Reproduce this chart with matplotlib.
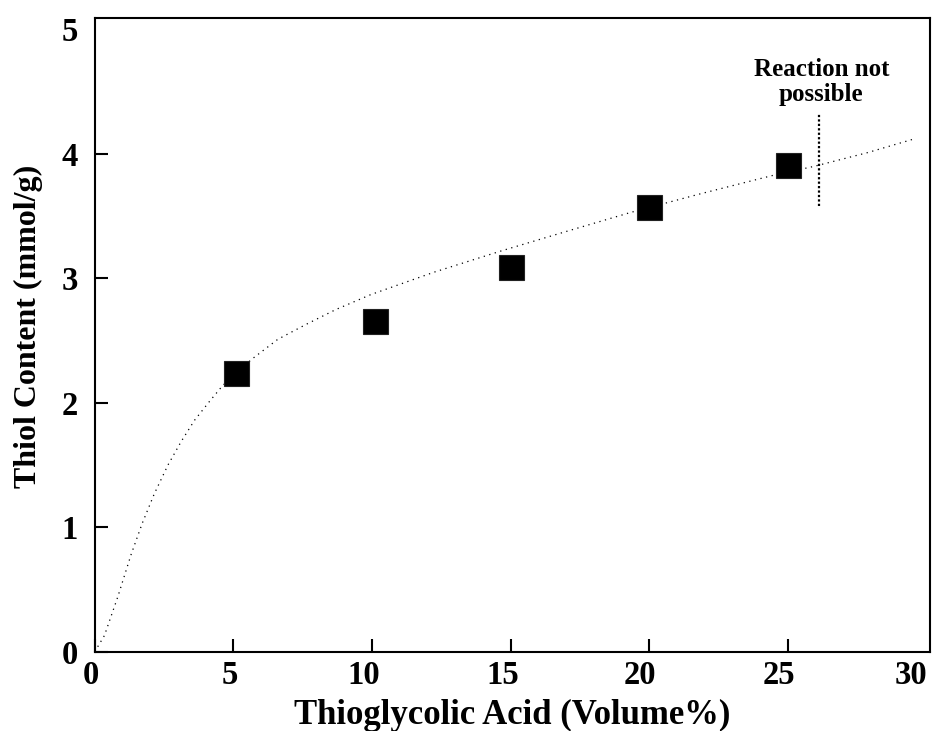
import numpy as np
import matplotlib.pyplot as plt
import matplotlib.transforms as mtransforms

# measured thiol content vs. thioglycolic acid volume fraction
tga_vol = [5.1, 10.1, 15.0, 20.0, 25.0]
thiol = [2.24, 2.66, 3.09, 3.57, 3.91]

# trend curve
fit_x = [0.0, 0.35, 0.83, 1.31, 1.71, 2.15, 2.64, 3.12, 3.6, 4.17, 4.62,
         5.66, 6.6, 7.62, 8.7, 9.96, 12.24, 14.65, 17.05, 19.33, 21.85,
         24.5, 25.94, 27.86, 29.54]
fit_y = [0.0, 0.13, 0.44, 0.78, 1.03, 1.27, 1.50, 1.69, 1.86, 2.02, 2.14,
         2.35, 2.51, 2.63, 2.75, 2.87, 3.05, 3.22, 3.38, 3.53, 3.68,
         3.83, 3.90, 4.01, 4.12]

# limit marker
limit_x = 26.1
limit_y = [3.58, 4.32]

x_ticks = [0, 5, 10, 15, 20, 25, 30]
y_ticks = [0, 1, 2, 3, 4, 5]

plt.rcParams['font.family'] = ['Liberation Serif', 'DejaVu Serif']
plt.rcParams['font.weight'] = 'bold'

fig = plt.figure(figsize=(9.38, 7.31), dpi=100)
ax = fig.add_axes([0.101, 0.1085, 0.8905, 0.8665])

ax.plot(fit_x, fit_y, color='black', lw=0.9, dashes=(1, 3.6))
ax.plot([limit_x, limit_x], limit_y, color='black', lw=1.6, dashes=(1, 1.0))
ax.plot(tga_vol, thiol, linestyle='none', marker='s', markersize=18,
        color='black', markeredgecolor='#222222', markeredgewidth=0.8)

ax.text(26.2, 4.58, 'Reaction not\npossible', ha='center', va='center',
        fontsize=18, fontweight='bold', linespacing=1.12)

ax.set_xlim(0, 30.12)
ax.set_ylim(0, 5.09)
ax.set_xticks(x_ticks)
ax.set_yticks(y_ticks)

for s in ax.spines.values():
    s.set_linewidth(1.5)

ax.tick_params(direction='in', length=9.5, width=1.5, labelsize=23.5)
ax.tick_params(axis='x', pad=6)
ax.tick_params(axis='y', pad=12)
# no tick mark on the last labels
ax.yaxis.get_major_ticks()[-1].tick1line.set_visible(False)
ax.xaxis.get_major_ticks()[-1].tick1line.set_visible(False)

# x labels sit a little left of their ticks
shifts = [-4, -4, -8, -8, -10, -9, -16]
for lab, dx in zip(ax.get_xticklabels(), shifts):
    off = mtransforms.ScaledTranslation(dx / 100, 0, fig.dpi_scale_trans)
    lab.set_transform(lab.get_transform() + off)

ax.set_xlabel('Thioglycolic Acid (Volume%)', fontsize=25, fontweight='bold', labelpad=6)
ax.set_ylabel('Thiol Content (mmol/g)', fontsize=23, fontweight='bold')
ax.yaxis.set_label_coords(-0.062, 0.514)

fig.savefig('out.png', dpi=100)
